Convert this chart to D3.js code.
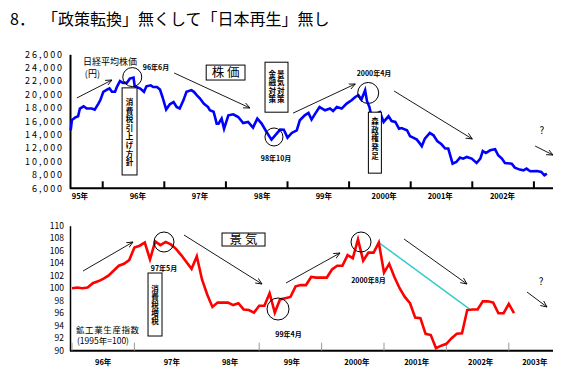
<!DOCTYPE html>
<html>
<head>
<meta charset="utf-8">
<script src="https://cdn.jsdelivr.net/npm/d3@7"></script>
<style>
body{margin:0;background:#fff;}
text{font-family:"Noto Sans CJK JP","DejaVu Sans",sans-serif;}
</style>
</head>
<body>
<script>
// Nikkei average (top chart), decimal year / yen
const nikkeiYear = [1995.48,1995.50,1995.55,1995.60,1995.63,1995.69,1995.74,1995.82,1995.87,1995.93,1995.96,
  1996.01,1996.07,1996.11,1996.15,1996.20,1996.23,1996.28,1996.33,1996.39,1996.44,1996.50,1996.52,1996.61,1996.67,
  1996.71,1996.78,1996.82,1996.88,1996.93,1996.97,1997.03,1997.09,1997.15,1997.20,1997.25,1997.31,1997.36,1997.44,
  1997.48,1997.53,1997.58,1997.64,1997.71,1997.74,1997.80,1997.83,1997.85,1997.88,1997.93,1997.97,1998.04,1998.12,
  1998.20,1998.28,1998.36,1998.44,1998.51,1998.58,1998.66,1998.74,1998.80,1998.88,1998.94,1999.00,1999.07,1999.15,
  1999.20,1999.28,1999.34,1999.39,1999.45,1999.52,1999.61,1999.69,1999.74,1999.80,1999.88,1999.96,2000.04,2000.10,
  2000.15,2000.20,2000.26,2000.29,2000.33,2000.37,2000.42,2000.50,2000.56,2000.64,2000.69,2000.75,2000.81,2000.85,
  2000.94,2000.99,2001.04,2001.10,2001.15,2001.18,2001.23,2001.31,2001.37,2001.43,2001.50,2001.56,2001.61,2001.65,
  2001.68,2001.74,2001.80,2001.85,2001.91,2001.99,2002.07,2002.13,2002.17,2002.22,2002.29,2002.37,2002.42,2002.48,
  2002.53,2002.64,2002.69,2002.77,2002.83,2002.88,2002.94,2003.05,2003.12,2003.17,2003.21];
const nikkeiValue = [14660,16180,16550,16750,17900,18240,17900,17900,17750,18640,19130,
  20400,20730,20900,20400,20400,21120,22000,21730,21730,22370,22530,21220,20880,20400,
  21220,21370,21120,21120,20730,19630,17750,18540,18880,18130,17900,19130,20400,20660,
  20400,19880,19400,18640,18130,17640,17430,16400,15660,15660,16400,14900,16900,17040,
  16640,15750,15900,15060,16400,15660,14410,13270,13910,14760,14730,13560,14260,14660,
  16150,16900,17240,16250,17150,18130,17640,17900,17530,18130,17900,18640,19130,19630,
  19880,19240,20630,19030,18130,16400,17040,17390,15900,16750,16040,15900,14900,15000,
  14660,13760,13560,13270,12670,12270,13420,14260,13910,13060,12570,11930,11930,10670,
  9680,9930,10580,10430,10670,10430,9780,10430,11570,11270,11670,11820,10930,10430,
  9780,9680,9080,8790,8690,8940,8540,8590,8440,7940,8190];

// industrial production index (bottom chart), monthly from Jan 1996
const ipValue = [100.0,100.1,100.0,100.1,100.8,101.1,101.5,102.0,102.8,103.6,103.9,104.5,
  106.5,106.8,107.3,104.6,107.5,106.9,107.4,107.0,106.3,105.3,104.2,103.1,
  105.1,101.4,99.0,97.0,97.7,97.7,97.7,97.3,97.6,96.6,96.5,96.1,
  97.2,97.2,99.2,96.1,98.2,98.4,98.6,100.3,100.5,100.5,101.8,101.7,
  101.7,101.7,103.0,103.6,103.6,105.3,104.8,107.8,104.4,105.7,105.7,107.3,
  102.5,103.9,101.8,100.0,98.6,97.6,95.3,95.2,92.7,92.5,90.4,90.8,
  91.1,92.0,92.7,92.8,96.5,96.6,96.6,97.9,97.9,97.7,96.0,96.0,
  97.5,96.0];
const trendMonth = [59, 76.4];
const trendValue = [107.3, 96.7];

const topYTicks = [6000,8000,10000,12000,14000,16000,18000,20000,22000,24000,26000];
const topXTicks = [1996,1997,1998,1999,2000,2001,2002,2003];
const topXLabels = ['95年','96年','97年','98年','99年','2000年','2001年','2002年'];
const topXLabelPos = [1995.63,1996.57,1997.58,1998.59,1999.59,2000.57,2001.48,2002.49];

const botYTicks = [90,92,94,96,98,100,102,104,106,108,110];
const botXTicks = [0,12,36,48,60,72,84];
const botXLabels = ['96年','97年','98年','99年','2000年','2001年','2002年','2003年'];
const botXLabelPos = [6,19.2,30.4,42.3,54.8,66.3,78.6,89];

// annotations (data coordinates)
const topArrows = [[1995.58,19480,1996.15,22160],[1997.16,23210,1998.39,17990],[1999.09,17220,2000.10,21570],
  [2000.73,20520,2002.0,13360],[2003.02,12310,2003.31,10970]];
const topCircles = [[1996.48,22600,9.5],[1998.78,13660,9],[2000.31,20230,10.5]];
const topNotes = [['96年6月',1996.865,23720],['98年10月',1998.815,10070],['2000年4月',2000.405,22760]];
const topBoxes = [
  {x0:1996.315,x1:1996.557,v0:20990,v1:7990,cols:['消費税引上げ方針'],off:15,step:8.57},
  {x0:1998.635,x1:1999.008,v0:24820,v1:17360,cols:['景気対策','金融対策'],off:12.5,step:8.33},
  {x0:2000.313,x1:2000.524,v0:17360,v1:8260,cols:['森政権発足'],off:9.5,step:8.75}];

const botArrows = [[2.12,102.75,11.73,107.39],[21.54,108.51,36.54,100.67],[41.15,100.83,51.54,105.63],
  [63.85,107.87,75.96,100.67],[87.5,99.39,91.35,96.99]];
const botCircles = [[17.69,107.39,10],[39.62,96.67,11],[55.58,107.39,10]];
const botNotes = [['97年5月',17.69,102.75],['99年4月',41.63,92.19],['2000年8月',57.02,100.83]];
const botBoxes = [{x0:14.62,x1:17.31,v0:102.43,v1:92.35,cols:['消費税増税'],off:16,step:8}];

var width = 573, height = 375;
var axisLeft = 70, axisRight = 553;

const svg = d3.select('body').append('svg')
  .attr('width', width).attr('height', height);

svg.append('defs').append('marker')
  .attr('id', 'arr').attr('viewBox', '0 0 10 10')
  .attr('refX', 9).attr('refY', 5)
  .attr('markerWidth', 7).attr('markerHeight', 7)
  .attr('markerUnits', 'userSpaceOnUse')
  .attr('orient', 'auto')
  .append('path').attr('d', 'M0,1 L9,5 L0,9')
  .attr('fill', 'none').attr('stroke', '#000').attr('stroke-width', 1.2);

// title
svg.append('text').attr('x', 10).attr('y', 25).attr('font-size', 16).text('8．');
svg.append('text').attr('x', 42).attr('y', 25).attr('font-size', 16)
  .text('「政策転換」無くして「日本再生」無し');

const xTop = d3.scaleLinear().domain([1995.469, 2003.31]).range([70, 553]);
const yTop = d3.scaleLinear().domain([6000, 26000]).range([188.3, 54.3]);
const xBot = d3.scaleLinear().domain([0, 93]).range([72, 555.6]);
const yBot = d3.scaleLinear().domain([90, 110]).range([350.7, 225.7]);

function drawPanel(x, y, o) {
  const g = svg.append('g');

  // y axis
  g.append('g')
    .attr('transform', `translate(${axisLeft},0)`)
    .call(d3.axisLeft(y).tickValues(o.yTicks).tickSize(0).tickPadding(6).tickFormat(o.yFormat))
    .call(a => a.select('.domain').attr('stroke', '#000').attr('stroke-width', o.yw))
    .call(a => a.selectAll('text').attr('font-family', 'DejaVu Sans').attr('font-size', o.yfs)
      .attr('letter-spacing', o.yls).attr('fill', '#000'));

  // x axis line + ticks
  g.append('line').attr('x1', axisLeft).attr('x2', axisRight)
    .attr('y1', y.range()[0]).attr('y2', y.range()[0])
    .attr('stroke', '#000').attr('stroke-width', 2);
  g.selectAll('.xt').data(o.xTicks).join('line')
    .attr('x1', d => x(d)).attr('x2', d => x(d))
    .attr('y1', y.range()[0]).attr('y2', y.range()[0] - o.tickLen)
    .attr('stroke', o.tickColor).attr('stroke-width', o.tickW);
  g.selectAll('.xl').data(o.xLabels).join('text')
    .attr('x', (d, i) => x(o.xLabelPos[i])).attr('y', y.range()[0] + o.labelDy)
    .attr('text-anchor', 'middle').attr('font-size', 7.5).attr('font-weight', 'bold')
    .text(d => d);

  // series
  const line = d3.line().x(d => x(d[0])).y(d => y(d[1]));
  if (o.trend) {
    g.append('path').datum(o.trend).attr('d', line)
      .attr('fill', 'none').attr('stroke', '#33cccc').attr('stroke-width', 1.5);
  }
  g.append('path').datum(o.series).attr('d', line)
    .attr('fill', 'none').attr('stroke', o.color).attr('stroke-width', 2.6)
    .attr('stroke-linejoin', 'miter');

  // arrows
  g.selectAll('.ar').data(o.arrows).join('line')
    .attr('x1', d => x(d[0])).attr('y1', d => y(d[1]))
    .attr('x2', d => x(d[2])).attr('y2', d => y(d[3]))
    .attr('stroke', '#000').attr('stroke-width', 0.9).attr('marker-end', 'url(#arr)');

  // circles
  g.selectAll('.ci').data(o.circles).join('circle')
    .attr('cx', d => x(d[0])).attr('cy', d => y(d[1])).attr('r', d => d[2])
    .attr('fill', 'none').attr('stroke', '#000').attr('stroke-width', 1);

  g.selectAll('.nt').data(o.notes).join('text')
    .attr('x', d => x(d[1])).attr('y', d => y(d[2]))
    .attr('text-anchor', 'middle').attr('font-size', 7).attr('font-weight', 'bold')
    .text(d => d[0]);

  // boxes with vertical text (one text per column, written top to bottom)
  o.boxes.forEach(b => {
    const bx0 = x(b.x0), bx1 = x(b.x1), by0 = y(b.v0), by1 = y(b.v1);
    g.append('rect').attr('x', bx0).attr('y', by0)
      .attr('width', bx1 - bx0).attr('height', by1 - by0)
      .attr('fill', '#fff').attr('stroke', '#000').attr('stroke-width', 1);
    const n = b.cols.length;
    const cw = 8.5, fs = 7.5;
    b.cols.forEach((col, ci) => {
      const cx = (bx0 + bx1) / 2 + (n - 1) * cw / 2 - ci * cw;
      g.append('text').attr('x', cx).attr('y', by0 + b.off - b.step / 2)
        .style('writing-mode', 'vertical-rl')
        .attr('font-size', fs).attr('font-weight', 'bold')
        .attr('letter-spacing', b.step - fs)
        .text(col);
    });
  });
  return g;
}

const gTop = drawPanel(xTop, yTop, {
  yTicks: topYTicks, yFormat: d3.format(','), yfs: 9, yls: 1.9, yw: 2,
  xTicks: topXTicks, xLabels: topXLabels, xLabelPos: topXLabelPos,
  tickLen: 7, tickColor: '#000', tickW: 2, labelDy: 11,
  series: nikkeiYear.map((d, i) => [d, nikkeiValue[i]]), color: '#0000ff',
  arrows: topArrows, circles: topCircles, notes: topNotes, boxes: topBoxes
});

const gBot = drawPanel(xBot, yBot, {
  yTicks: botYTicks, yFormat: d3.format('d'), yfs: 8.5, yls: 0, yw: 1.5,
  xTicks: botXTicks, xLabels: botXLabels, xLabelPos: botXLabelPos,
  tickLen: 8, tickColor: '#999', tickW: 1, labelDy: 14,
  series: ipValue.map((d, i) => [i, d]), color: '#ff0000',
  trend: trendMonth.map((d, i) => [d, trendValue[i]]),
  arrows: botArrows, circles: botCircles, notes: botNotes, boxes: botBoxes
});

// top chart labels
gTop.append('text').attr('x', xTop(1995.68)).attr('y', yTop(24330))
  .attr('font-size', 9).text('日経平均株価');
gTop.append('text').attr('x', xTop(1995.71)).attr('y', yTop(22610))
  .attr('font-family', 'DejaVu Sans, Noto Sans CJK JP').attr('font-size', 9).text('(円)');
gTop.append('rect').attr('x', xTop(1997.68)).attr('y', yTop(24390))
  .attr('width', xTop(1998.31) - xTop(1997.68)).attr('height', yTop(22160) - yTop(24390))
  .attr('fill', '#fff').attr('stroke', '#000');
gTop.append('text').attr('x', xTop(1997.995)).attr('y', yTop(22610))
  .attr('text-anchor', 'middle').attr('font-size', 12.5).text('株 価');
gTop.append('text').attr('x', xTop(2003.13)).attr('y', yTop(14160))
  .attr('text-anchor', 'middle').attr('font-size', 10).text('?');

// bottom chart labels
gBot.append('rect').attr('x', xBot(28.85)).attr('y', yBot(108.83))
  .attr('width', xBot(37.12) - xBot(28.85)).attr('height', yBot(106.75) - yBot(108.83))
  .attr('fill', '#fff').attr('stroke', '#000');
gBot.append('text').attr('x', xBot(32.98)).attr('y', yBot(107.07))
  .attr('text-anchor', 'middle').attr('font-size', 12.5).text('景 気');
gBot.append('text').attr('x', xBot(0.77)).attr('y', yBot(92.83))
  .attr('font-size', 8.5).attr('letter-spacing', 0.6).text('鉱工業生産指数');
gBot.append('text').attr('x', xBot(0.96)).attr('y', yBot(91.15))
  .attr('font-family', 'DejaVu Sans, Noto Sans CJK JP').attr('font-size', 8.5).text('(1995年=100)');
gBot.append('text').attr('x', xBot(90.2)).attr('y', yBot(100.5))
  .attr('text-anchor', 'middle').attr('font-size', 10).text('?');
</script>
</body>
</html>
